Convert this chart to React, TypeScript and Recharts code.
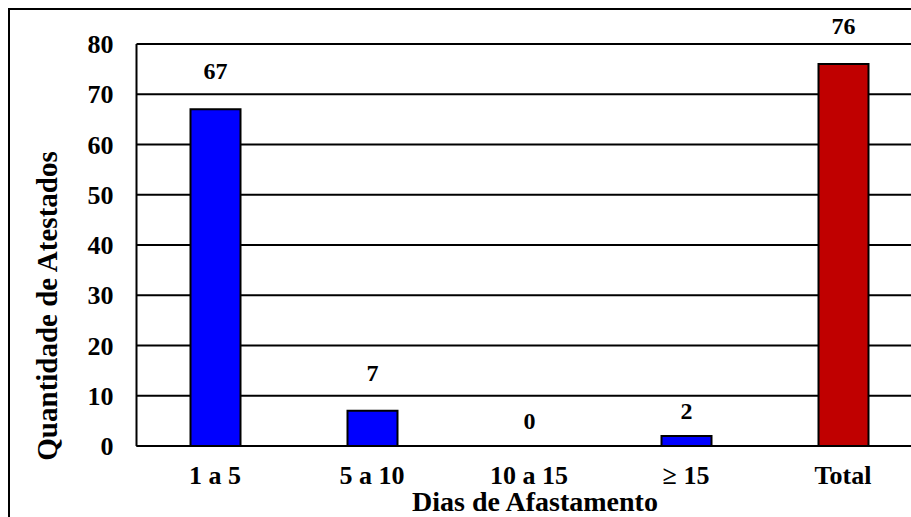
import { BarChart, Bar, XAxis, YAxis, CartesianGrid, Cell, LabelList } from "recharts";

const categories = ["1 a 5", "5 a 10", "10 a 15", "≥ 15", "Total"];
const atestados = [67, 7, 0, 2, 76];
const yTicks = [0, 10, 20, 30, 40, 50, 60, 70, 80];

const data = categories.map((name, i) => ({ name, value: atestados[i] }));

const FONT = "'Liberation Serif', 'Times New Roman', serif";

function ValueLabel(props: any) {
  const { x, y, width, height, value } = props;
  // small bars keep their label closer to the bar, like the original
  const lift = value >= 5 ? 30 : 17;
  const top = Math.min(y, y + height);
  return (
    <text
      x={x + width / 2}
      y={top - lift}
      textAnchor="middle"
      fontFamily={FONT}
      fontWeight="bold"
      fontSize={24}
      fill="#000"
    >
      {value}
    </text>
  );
}

function YTitle(props: any) {
  const vb = props.viewBox;
  const cx = vb.x + 47;
  const cy = vb.y + vb.height / 2 + 61;
  return (
    <text
      x={cx}
      y={cy}
      transform={`rotate(-90 ${cx} ${cy})`}
      textAnchor="middle"
      fontFamily={FONT}
      fontWeight="bold"
      fontSize={29}
      fill="#000"
    >
      Quantidade de Atestados
    </text>
  );
}

export default function App() {
  return (
    <div
      style={{
        position: "fixed",
        left: 0,
        top: 0,
        width: 911,
        height: 517,
        overflow: "hidden",
        background: "#fff",
      }}
    >
      <div
        style={{
          position: "absolute",
          left: 8,
          top: 8,
          borderLeft: "2px solid #000",
          borderTop: "2px solid #000",
        }}
      >
        <BarChart
          width={911.5}
          height={520}
          data={data}
          margin={{ top: 34, right: 0, bottom: 0, left: 0 }}
          style={{ fontFamily: FONT }}
        >
          <CartesianGrid vertical={false} stroke="#000" strokeWidth={2} />
          <XAxis
            dataKey="name"
            height={84}
            tickSize={0}
            tickMargin={20}
            axisLine={{ stroke: "#000", strokeWidth: 2 }}
            tickLine={false}
            tick={{ fill: "#000", fontSize: 26, fontWeight: "bold", fontFamily: FONT }}
            interval={0}
            label={{
              value: "Dias de Afastamento",
              position: "insideBottom",
              offset: 19,
              dx: 6,
              fill: "#000",
              fontSize: 28,
              fontWeight: "bold",
              fontFamily: FONT,
            }}
          />
          <YAxis
            width={126.5}
            domain={[0, 80]}
            ticks={yTicks}
            tickSize={0}
            tickMargin={23}
            axisLine={{ stroke: "#000", strokeWidth: 2 }}
            tickLine={false}
            tick={{ fill: "#000", fontSize: 26, fontWeight: "bold", fontFamily: FONT }}
            label={<YTitle />}
          />
          <Bar
            dataKey="value"
            barSize={50}
            strokeWidth={2}
            minPointSize={(v: number) => (v === 0 ? 0.5 : 0)}
            isAnimationActive={false}
          >
            {data.map((d) => (
              <Cell
                key={d.name}
                fill={d.value === 0 ? "none" : d.name === "Total" ? "#C00000" : "#0000FF"}
                stroke={d.value === 0 ? "none" : "#000"}
              />
            ))}
            <LabelList dataKey="value" content={<ValueLabel />} />
          </Bar>
        </BarChart>
      </div>
    </div>
  );
}
